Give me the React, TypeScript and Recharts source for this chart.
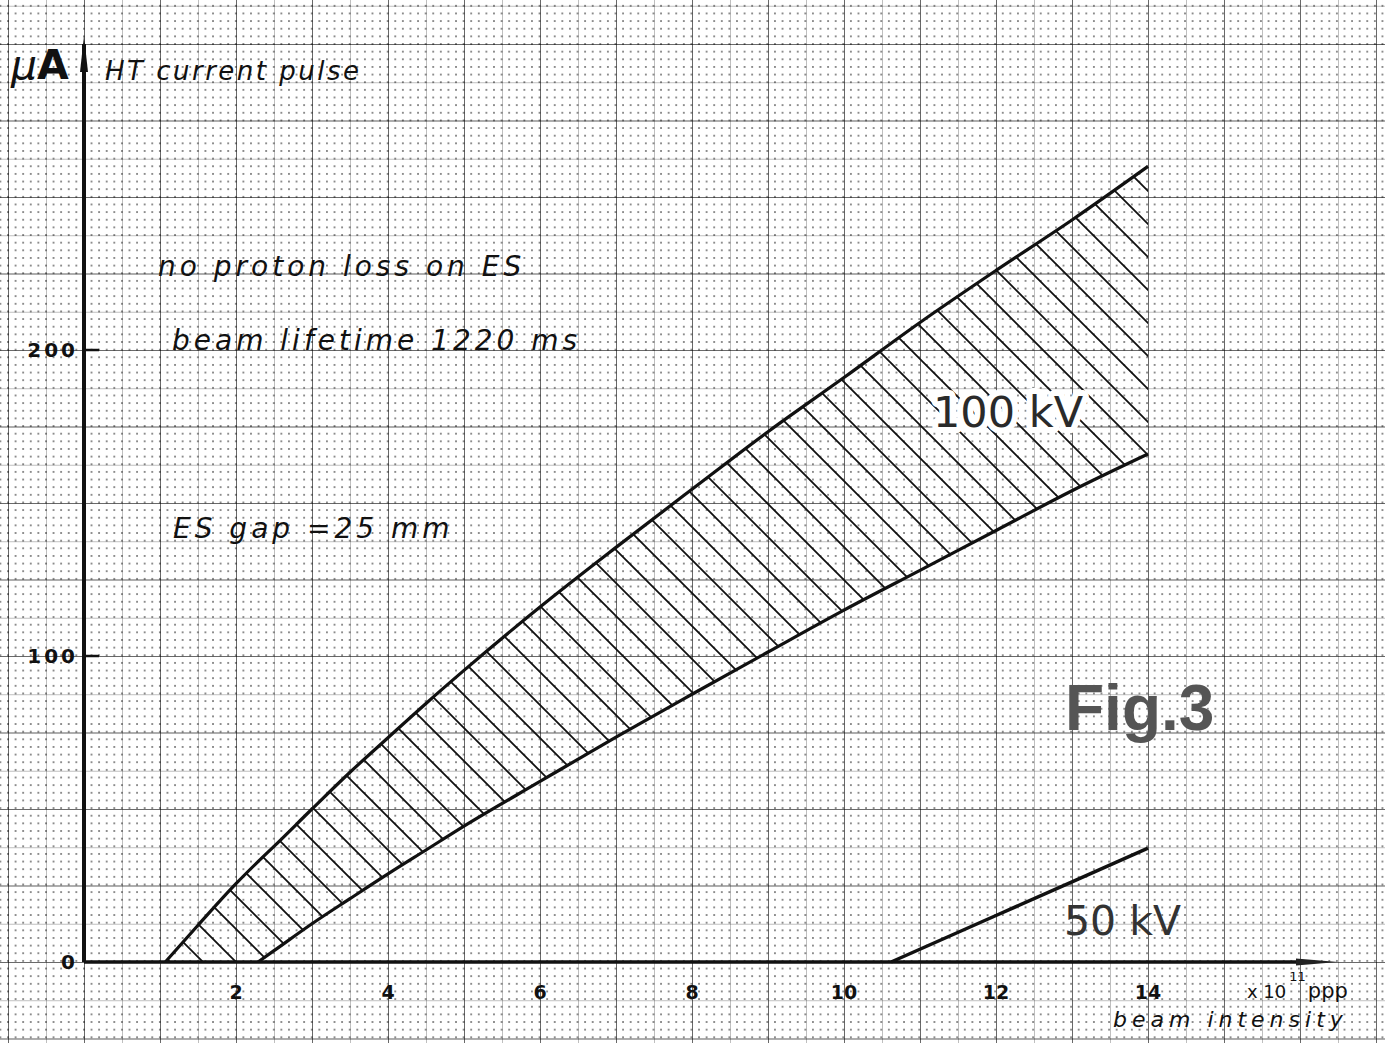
import { ComposedChart, Area, Line, XAxis, YAxis, ReferenceDot } from "recharts"

// 100 kV band (upper / lower edge)
const bandX = [1.07, 1.5, 2, 2.29, 2.5, 3, 3.5, 4, 4.5, 5, 6, 7, 8, 9, 10, 11, 12, 13, 14]
const upper100kV = [0, 12, 25.6, 32.8, 37.8, 50, 62, 73.3, 84.5, 95.3, 116, 135.5, 154.5, 173.3, 191, 209, 226, 242.5, 260]
const lower100kV = [null, null, null, 0, 3.7, 12.5, 20.7, 28.8, 36.6, 44.4, 59, 73.5, 87.5, 101.3, 115, 128, 141, 154, 166]

// 50 kV line
const kv50X = [10.62, 12, 13, 14]
const kv50Values = [0, 15.2, 26.2, 37.2]

const xTicks = [2, 4, 6, 8, 10, 12, 14]
const yTicks = [0, 100, 200]

const bandData = bandX.map((x, i) => ({
  x,
  upper: upper100kV[i],
  lower: lower100kV[i],
  band: [lower100kV[i] ?? 0, upper100kV[i]],
}))
const kv50Data = kv50X.map((x, i) => ({ x, v: kv50Values[i] }))

const W = 1385
const H = 1043
const hand = "DejaVu Sans"

const paper: React.CSSProperties = {
  position: "absolute",
  left: 0,
  top: 0,
  width: W,
  height: H,
  backgroundColor: "#fff",
  backgroundImage: [
    "linear-gradient(to right, rgba(0,0,0,0.45) 1px, transparent 1px)",
    "linear-gradient(to bottom, rgba(0,0,0,0.45) 1px, transparent 1px)",
    "linear-gradient(to right, rgba(0,0,0,0.25) 1px, transparent 1px)",
    "linear-gradient(to bottom, rgba(0,0,0,0.25) 1px, transparent 1px)",
    "radial-gradient(circle, rgba(0,0,0,0.45) 0.8px, transparent 1.2px)",
  ].join(","),
  backgroundSize: "76px 100%, 100% 76.5px, 38px 100%, 100% 38.25px, 7.6px 7.65px",
  backgroundPosition: "8px 0, 0 44px, 8px 0, 0 44px, 4.2px 40.2px",
}

function YTick(props: any) {
  const { x, y, payload } = props
  return (
    <g>
      {payload.value !== 0 && (
        <line x1={x} x2={x + 15} y1={y} y2={y} stroke="#111" strokeWidth={2.5} />
      )}
      <text x={x - 6} y={y + 7} textAnchor="end" fontFamily={hand} fontWeight="bold" fontSize={20} letterSpacing={3} fill="#111">
        {payload.value}
      </text>
    </g>
  )
}

function XTick(props: any) {
  const { x, y, payload } = props
  return (
    <text x={x} y={y + 37} textAnchor="middle" fontFamily={hand} fontWeight="bold" fontSize={19} fill="#111">
      {payload.value}
    </text>
  )
}

const upArrow = (p: any) => (
  <path d={`M${p.cx - 4},${p.cy + 28} L${p.cx},${p.cy - 8} L${p.cx + 4},${p.cy + 28} Z`} fill="#111" />
)
const rightArrow = (p: any) => (
  <path d={`M${p.cx - 4},${p.cy - 3.5} L${p.cx + 38},${p.cy} L${p.cx - 4},${p.cy + 3.5} Z`} fill="#222" />
)

export default function App() {
  return (
    <div style={paper}>
      <ComposedChart
        width={W}
        height={H}
        data={bandData}
        margin={{ top: 44, right: 85, bottom: 41, left: 24 }}
      >
        <defs>
          <pattern id="hatch" patternUnits="userSpaceOnUse" width={33} height={33}>
            <path d="M0,0 L33,33 M-2,31 L2,35 M31,-2 L35,2" stroke="#111" strokeWidth={1.8} />
          </pattern>
        </defs>
        <XAxis
          dataKey="x"
          type="number"
          domain={[0, 16]}
          ticks={xTicks}
          interval={0}
          height={40}
          tickLine={false}
          tickSize={0}
          tickMargin={0}
          tick={<XTick />}
          axisLine={{ stroke: "#111", strokeWidth: 3.5 }}
        />
        <YAxis
          type="number"
          domain={[0, 300]}
          ticks={yTicks}
          interval={0}
          width={60}
          tickLine={false}
          tickSize={0}
          tickMargin={0}
          tick={<YTick />}
          axisLine={{ stroke: "#111", strokeWidth: 4 }}
        />
        <Area
          dataKey="band"
          type="monotone"
          fill="url(#hatch)"
          fillOpacity={1}
          stroke="none"
          isAnimationActive={false}
        />
        <Line dataKey="upper" type="monotone" stroke="#111" strokeWidth={3.2} dot={false} activeDot={false} isAnimationActive={false} />
        <Line dataKey="lower" type="monotone" stroke="#111" strokeWidth={3.2} dot={false} activeDot={false} isAnimationActive={false} />
        <Line data={kv50Data} dataKey="v" type="linear" stroke="#111" strokeWidth={3.5} dot={false} activeDot={false} isAnimationActive={false} />
        <ReferenceDot x={0} y={300} r={0} shape={upArrow} />
        <ReferenceDot x={16} y={0} r={0} shape={rightArrow} />
      </ComposedChart>
      <svg width={W} height={H} style={{ position: "absolute", left: 0, top: 0, pointerEvents: "none" }}>
        <text x={11} y={79} fontFamily={hand} fontWeight="bold" fontSize={41} fill="#111">
          <tspan fontStyle="italic" fontWeight="normal">μ</tspan>A
        </text>
        <text x={105} y={80} fontFamily={hand} fontStyle="italic" fontSize={26} letterSpacing={2.5} fill="#111">
          HT current pulse
        </text>
        <text x={158} y={276} fontFamily={hand} fontStyle="italic" fontSize={28} letterSpacing={4} fill="#111">
          no proton loss on ES
        </text>
        <text x={172} y={350} fontFamily={hand} fontStyle="italic" fontSize={28} letterSpacing={4} fill="#111">
          beam lifetime 1220 ms
        </text>
        <text x={173} y={538} fontFamily={hand} fontStyle="italic" fontSize={28} letterSpacing={4} fill="#111">
          ES gap =25 mm
        </text>
        <text x={933} y={427} fontFamily={hand} fontSize={43} fill="#2a2a2a" stroke="#fff" strokeWidth={12} strokeLinejoin="round" paintOrder="stroke">
          100 kV
        </text>
        <text x={1064} y={935} fontFamily={hand} fontSize={41} fill="#333">
          50 kV
        </text>
        <text x={1065} y={730} fontFamily="Liberation Sans" fontWeight="bold" fontSize={64} fill="#555">
          Fig.3
        </text>
        <text x={1247} y={998} fontFamily={hand} fontSize={18} fill="#111">
          x 10
          <tspan dx={3} dy={-17} fontSize={13}>11</tspan>
          <tspan dx={2} dy={17} fontSize={21}>ppp</tspan>
        </text>
        <text x={1113} y={1027} fontFamily={hand} fontStyle="italic" fontSize={22} letterSpacing={5} fill="#111">
          beam intensity
        </text>
      </svg>
    </div>
  )
}
